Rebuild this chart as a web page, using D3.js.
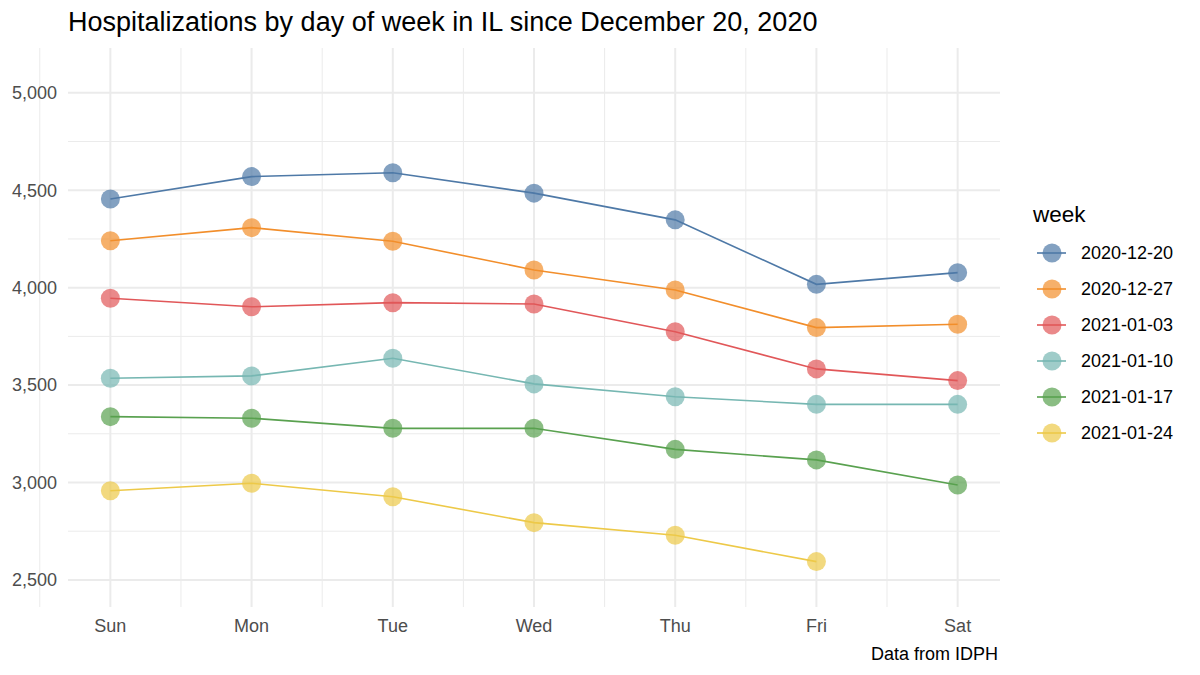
<!DOCTYPE html>
<html>
<head>
<meta charset="utf-8">
<title>Hospitalizations by day of week in IL</title>
<style>
  body { margin: 0; background: #fff; font-family: "Liberation Sans", Arial, sans-serif; }
  .grid-major { stroke: #ebebeb; stroke-width: 2; }
  .grid-minor { stroke: #ebebeb; stroke-width: 1; }
  .tick-label { fill: #4d4d4d; font-size: 18px; }
</style>
</head>
<body>
<script src="https://d3js.org/d3.v7.min.js"></script>
<script>
// data
var days = ["Sun", "Mon", "Tue", "Wed", "Thu", "Fri", "Sat"];
var weeks = ["2020-12-20", "2020-12-27", "2021-01-03", "2021-01-10", "2021-01-17", "2021-01-24"];
var colors = ["#4E79A7", "#F28E2B", "#E15759", "#76B7B2", "#59A14F", "#EDC948"];
var w1220 = [4455, 4570, 4590, 4485, 4348, 4017, 4077];
var w1227 = [4241, 4308, 4238, 4091, 3988, 3795, 3812];
var w0103 = [3946, 3902, 3923, 3916, 3774, 3583, 3523];
var w0110 = [3535, 3547, 3638, 3506, 3440, 3401, 3401];
var w0117 = [3338, 3330, 3278, 3278, 3170, 3116, 2987];
var w0124 = [2958, 2996, 2927, 2794, 2729, 2594];
var series = [w1220, w1227, w0103, w0110, w0117, w0124];
var yTicks = [2500, 3000, 3500, 4000, 4500, 5000];

var W = 1200, H = 675;
var panel = {left: 68, right: 1000, top: 48, bottom: 607};

var svg = d3.select("body").append("svg").attr("width", W).attr("height", H);

// continuous x with 5% expansion, like ggplot
var x = d3.scaleLinear().domain([-0.3, 6.3]).range([panel.left, panel.right]);
var y = d3.scaleLinear().domain([2361, 5230]).range([panel.bottom, panel.top]);

var grid = svg.append("g");
// minor grid
d3.range(-0.5, 6.5, 1).forEach(function(d) {
  grid.append("line").attr("class", "grid-minor")
    .attr("x1", x(d)).attr("x2", x(d)).attr("y1", panel.top).attr("y2", panel.bottom);
});
[2750, 3250, 3750, 4250, 4750].forEach(function(d) {
  grid.append("line").attr("class", "grid-minor")
    .attr("x1", panel.left).attr("x2", panel.right).attr("y1", y(d)).attr("y2", y(d));
});
// major grid
days.forEach(function(d, i) {
  grid.append("line").attr("class", "grid-major")
    .attr("x1", x(i)).attr("x2", x(i)).attr("y1", panel.top).attr("y2", panel.bottom);
});
yTicks.forEach(function(d) {
  grid.append("line").attr("class", "grid-major")
    .attr("x1", panel.left).attr("x2", panel.right).attr("y1", y(d)).attr("y2", y(d));
});

// axes labels
var fmt = d3.format(",");
svg.append("g").selectAll("text").data(yTicks).enter().append("text")
  .attr("class", "tick-label")
  .attr("x", 57).attr("y", function(d) { return y(d); })
  .attr("dy", "0.35em").attr("text-anchor", "end")
  .text(function(d) { return fmt(d); });

svg.append("g").selectAll("text").data(days).enter().append("text")
  .attr("class", "tick-label")
  .attr("x", function(d, i) { return x(i); }).attr("y", 632)
  .attr("text-anchor", "middle")
  .text(function(d) { return d; });

// lines + points
var line = d3.line().x(function(d, i) { return x(i); }).y(function(d) { return y(d); });
var g = svg.append("g");
series.forEach(function(s, k) {
  g.append("path").attr("d", line(s)).attr("fill", "none")
    .attr("stroke", colors[k]).attr("stroke-width", 1.6);
});
series.forEach(function(s, k) {
  g.selectAll(null).data(s).enter().append("circle")
    .attr("cx", function(d, i) { return x(i); })
    .attr("cy", function(d) { return y(d); })
    .attr("r", 9.5)
    .attr("fill", colors[k]).attr("fill-opacity", 0.7);
});

// title + caption
svg.append("text").attr("x", 68).attr("y", 31)
  .style("font-size", "27px").style("fill", "#000")
  .text("Hospitalizations by day of week in IL since December 20, 2020");
svg.append("text").attr("x", 998).attr("y", 660).attr("text-anchor", "end")
  .style("font-size", "18px").style("fill", "#000")
  .text("Data from IDPH");

// legend
var leg = svg.append("g");
leg.append("text").attr("x", 1033).attr("y", 222)
  .style("font-size", "22.5px").style("fill", "#000").text("week");
weeks.forEach(function(wk, k) {
  var cy = 253 + k * 36;
  leg.append("line").attr("x1", 1037).attr("x2", 1066).attr("y1", cy).attr("y2", cy)
    .attr("stroke", colors[k]).attr("stroke-width", 1.6);
  leg.append("circle").attr("cx", 1052).attr("cy", cy).attr("r", 9.5)
    .attr("fill", colors[k]).attr("fill-opacity", 0.7);
  leg.append("text").attr("x", 1081).attr("y", cy).attr("dy", "0.35em")
    .style("font-size", "18px").style("fill", "#000").text(wk);
});
</script>
</body>
</html>
